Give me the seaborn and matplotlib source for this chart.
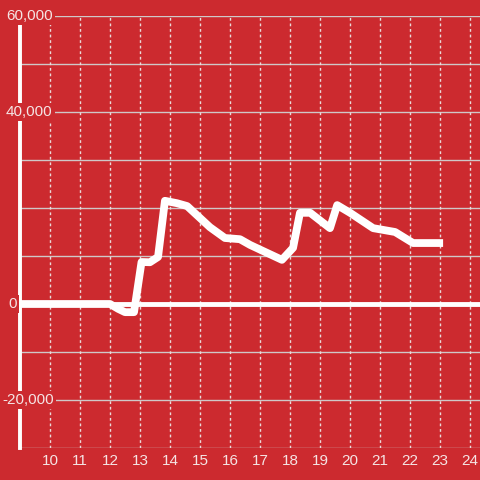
import pandas as pd
import seaborn as sns
import matplotlib.pyplot as plt

# values
x_vals = [9.0, 12.0, 12.27, 12.5, 12.8, 13.05, 13.33, 13.6, 13.83, 14.23, 14.57,
          15.33, 15.83, 16.33, 16.67, 17.73, 18.1, 18.33, 18.67, 19.33, 19.57,
          20.0, 20.77, 21.5, 22.1, 23.1]
y_vals = [0, 0, -1000, -1700, -1700, 8750, 8700, 9800, 21500, 21000, 20400,
          16000, 13750, 13500, 12300, 9200, 11700, 19000, 19000, 15800, 20600,
          19000, 15800, 15000, 12700, 12700]
x_ticks = list(range(10, 25))
y_ticks = [-20000, 0, 40000, 60000]
y_tick_labels = ["-20,000", "0", "40,000", "60,000"]
y_label_left_px = [2, 8, 6, 6]

data = pd.DataFrame({"x": x_vals, "y": y_vals})

red = "#cc2a2f"
pale = "#f5e4e4"

sns.set_theme(style="white", rc={"axes.facecolor": red, "figure.facecolor": red})
plt.rcParams["font.family"] = ["Liberation Sans", "DejaVu Sans"]

fig = plt.figure(figsize=(4.8, 4.8), dpi=100)
ax = fig.add_axes([20 / 480, 32 / 480, 460 / 480, 432 / 480])

sns.lineplot(x="x", y="y", data=data, ax=ax, color="white", linewidth=5.6,
             solid_capstyle="butt", solid_joinstyle="round", zorder=4)

ax.set_xlim(9, 24.33)
ax.set_ylim(-30000, 60000)

# grid
for yv in range(-30000, 60001, 10000):
    ax.axhline(yv, color="#cfc8c8", linewidth=1, zorder=1)
for xv in x_ticks:
    ax.axvline(xv, color="#eadada", linewidth=1, linestyle=(0, (2, 2)), zorder=1)
ax.axhline(0, color="white", linewidth=3.5, zorder=3)

for s in ["top", "right", "bottom"]:
    ax.spines[s].set_visible(False)
ax.spines["left"].set_color("white")
ax.spines["left"].set_linewidth(2.8)
ax.spines["left"].set_zorder(3)

ax.set_xticks(x_ticks)
ax.set_xticklabels([str(t) for t in x_ticks], color=pale, fontsize=11)
ax.tick_params(axis="x", length=0, pad=4)
ax.set_yticks([])
ax.set_xlabel("")
ax.set_ylabel("")

for yv, lab, px in zip(y_ticks, y_tick_labels, y_label_left_px):
    ax.annotate(lab, xy=(px, yv), xycoords=("figure pixels", "data"),
                ha="left", va="center", color=pale, fontsize=11, zorder=6,
                annotation_clip=False,
                bbox=dict(boxstyle="square,pad=0.15", facecolor=red, edgecolor="none"))

plt.savefig("out.png", dpi=100, facecolor=red)
